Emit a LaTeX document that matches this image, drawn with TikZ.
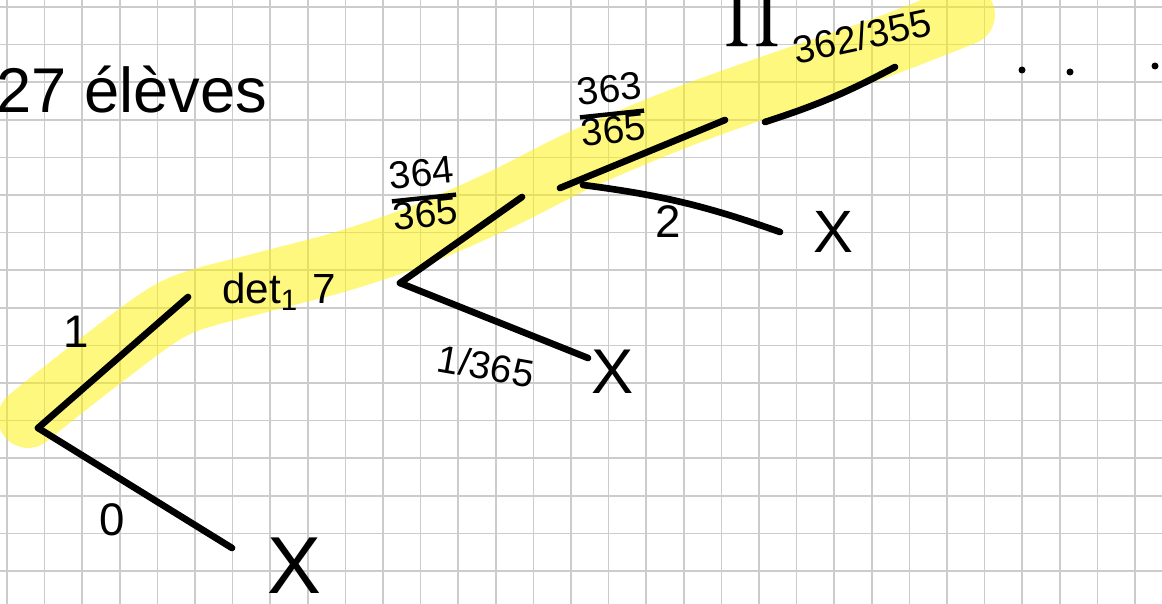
\documentclass[tikz,border=0pt]{standalone}
\usepackage{amsmath}
\usepackage{exscale}
\usepackage{fontspec}
\setmainfont{Liberation Sans}
\usetikzlibrary{positioning}

\newcommand{\hfrac}[2]{{\renewcommand{\arraystretch}{0.85}\setlength{\arrayrulewidth}{2.5pt}\begin{tabular}{@{}c@{}}#1\\\hline #2\end{tabular}}}

\tikzset{
  pen/.style={line width=3.8pt, line cap=round, black},
  gridline/.style={line width=0.9pt, black!20},
  marker/.style={line width=1.2cm, line cap=round, line join=round, yellow, opacity=0.5},
  lbl/.style={font=\fontsize{26}{26}\selectfont, inner sep=0pt},
  frac/.style={font=\fontsize{22}{22}\selectfont, inner sep=0pt},
  cross/.style={inner sep=0pt}
}

\begin{document}
\begin{tikzpicture}[x=0.02cm, y=-0.02cm]
    \useasboundingbox (0,0) rectangle (1162,604);
    \fill[white] (0,0) rectangle (1162,604);

    % grid paper
    \foreach \k in {0,...,30} \draw[gridline] ({7+37.6*\k},0) -- ({7+37.6*\k},604);
    \foreach \k in {0,...,15} \draw[gridline] (0,{7+37.6*\k}) -- (1162,{7+37.6*\k});

    % highlighted path
    \draw[marker] plot[smooth] coordinates {(28,418) (95,365) (175,308) (260,283) (340,262) (420,235) (500,200) (580,160) (680,118) (780,82) (880,48) (965,15)};

    % branch points
    \coordinate (r) at (38,428);
    \coordinate (a1) at (188,297);
    \coordinate (a0) at (232,548);
    \coordinate (n2) at (400,283);
    \coordinate (b1) at (522,197);
    \coordinate (b0) at (588,358);
    \coordinate (n3) at (560,188);
    \coordinate (n3s) at (583,185);
    \coordinate (c1) at (725,120);
    \coordinate (c0) at (780,232);
    \coordinate (d0) at (765,122);
    \coordinate (d1) at (895,67);

    \node[cross, font=\fontsize{46}{46}\selectfont] (x1) at (294,566) {X};
    \node[cross, font=\fontsize{36}{36}\selectfont] (x2) at (613,372) {X};
    \node[cross, font=\fontsize{34}{34}\selectfont] (x3) at (833,232) {X};

    \draw[pen] (r) -- (a1);
    \draw[pen] (r) -- (a0);
    \draw[pen] (n2) -- (b1);
    \draw[pen] (n2) -- (b0);
    \draw[pen] (n3) -- (c1);
    \draw[pen] (n3s) to[bend left=6] (c0);
    \draw[pen] (d0) to[bend right=5] (d1);

    % labels
    \node[anchor=west, inner sep=0pt, font=\fontsize{36}{36}\selectfont] (title) at (-4,90) {27 élèves};
    \node[lbl] (l1) at (76,332) {1};
    \node[lbl] (l0) at (112,520) {0};
    \node[anchor=west, font=\fontsize{24}{24}\selectfont, inner sep=0pt] (det) at (222,292) {det\textsubscript{1}\,\,7};
    \node[frac, rotate=-10] (p1) at (486,366) {1/365};
    \node[frac, rotate=6] (p364) at (424,198) {\hfrac{364}{365}};
    \node[frac, rotate=6] (p363) at (612,114) {\hfrac{363}{365}};
    \node[lbl] (l2) at (668,222) {2};
    \node[inner sep=0pt, font=\fontsize{30}{30}\selectfont] (prod) at (752,16) {$\displaystyle\prod$};
    \node[frac, rotate=12] (p362) at (862,36) {362/355};

    % dots
    \foreach \px/\py in {1022/70, 1070/72, 1155/66}
      \fill (\px,\py) circle[radius=3.5];
\end{tikzpicture}
\end{document}
